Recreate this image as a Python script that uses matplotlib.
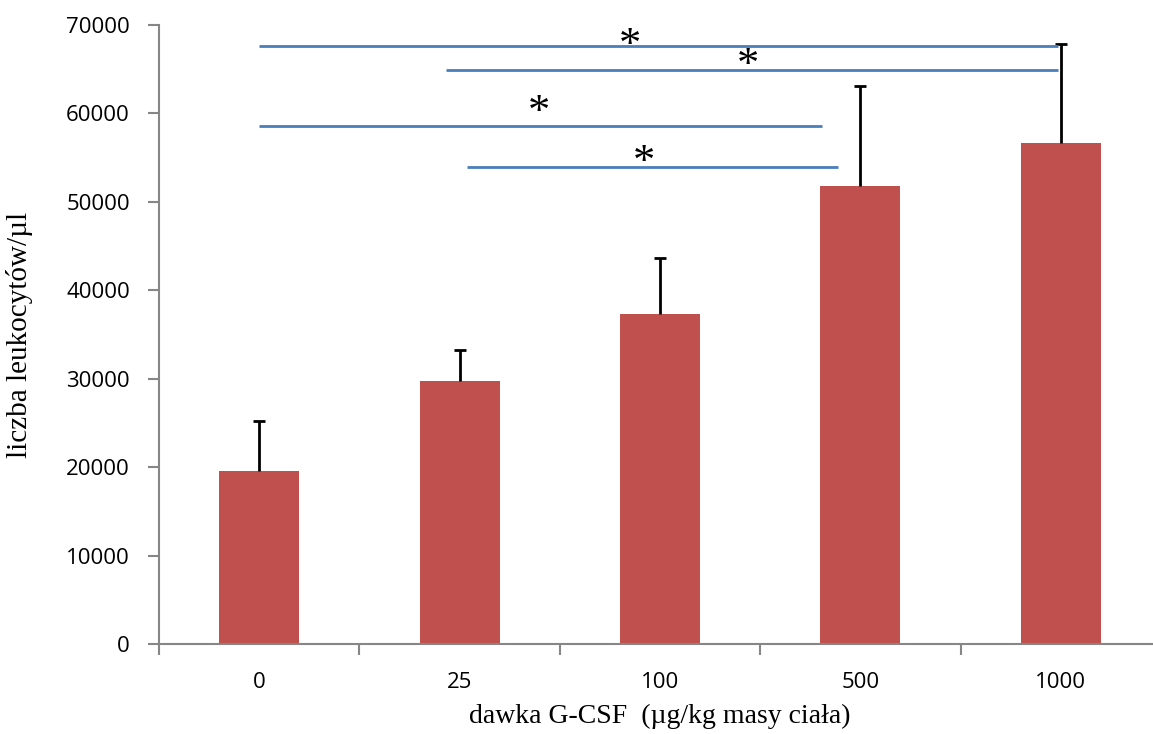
import numpy as np
import matplotlib.pyplot as plt

# dawka G-CSF (ug/kg) vs liczba leukocytow
doses = ["0", "25", "100", "500", "1000"]
means = [19600, 29700, 37300, 51800, 56600]
err_top = [25200, 33200, 43600, 63100, 67800]

# significance brackets: (x start, x end, y level)
sig_x0 = [0.0, 0.93, 0.0, 1.035]
sig_x1 = [3.985, 3.985, 2.81, 2.89]
sig_y = [67600, 64900, 58600, 53900]
# star positions
star_x = [1.85, 2.44, 1.395, 1.92]
star_y = [67600, 65350, 60050, 54400]

bar_color = "#c0504d"
line_color = "#4a7ebb"
axis_gray = "#868686"

fig = plt.figure(figsize=(11.53, 7.34), dpi=100)
ax = fig.add_axes([159 / 1153, 90 / 734, 1002 / 1153, 619 / 734])

x = np.arange(len(doses))
ax.bar(x, means, width=0.4, color=bar_color, zorder=2)

# error bars, upward only
ax.vlines(x, means, err_top, color="black", lw=2, zorder=3)
ax.hlines(err_top, x - 0.03, x + 0.03, color="black", lw=2, zorder=3)

for x0, x1, y in zip(sig_x0, sig_x1, sig_y):
    ax.plot([x0, x1], [y, y], color=line_color, lw=2, zorder=4, solid_capstyle="butt")
for sx, sy in zip(star_x, star_y):
    ax.text(sx, sy, "*", ha="center", va="center", fontsize=32,
            family="Liberation Serif", zorder=5)

ax.set_xlim(-0.5, 4.5)
ax.set_ylim(0, 70000)

ax.set_xticks(x)
ax.set_xticklabels(doses)
ax.set_xticks(np.arange(-0.5, 5, 1), minor=True)
ax.tick_params(axis="x", which="major", length=0, pad=20)
ax.tick_params(axis="x", which="minor", length=8, width=1.5, color=axis_gray)
ax.set_yticks(np.arange(0, 70001, 10000))
ax.tick_params(axis="y", length=8, width=1.5, color=axis_gray, pad=13)
for lab in ax.get_xticklabels() + ax.get_yticklabels():
    lab.set_family("Open Sans")
    lab.set_fontsize(16)

for side in ["top", "right"]:
    ax.spines[side].set_visible(False)
for side in ["left", "bottom"]:
    ax.spines[side].set_color(axis_gray)
    ax.spines[side].set_linewidth(1.5)
    ax.spines[side].set_zorder(6)

ax.set_xlabel("dawka G-CSF  (µg/kg masy ciała)", family="Liberation Serif",
              fontsize=20, labelpad=8)
ax.set_ylabel("liczba leukocytów/µl", family="Liberation Serif",
              fontsize=21, labelpad=24)

fig.savefig("out.png", dpi=100)
